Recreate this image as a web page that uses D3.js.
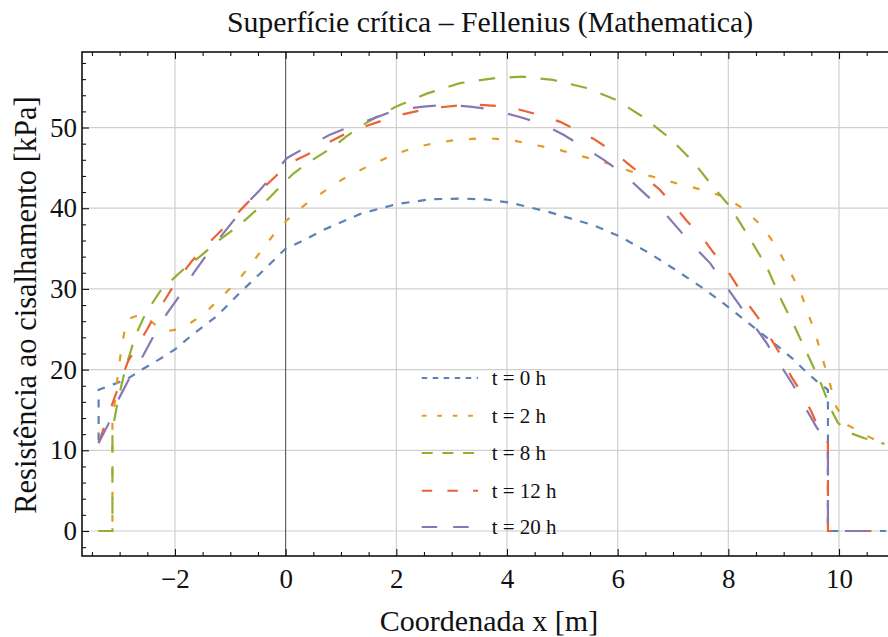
<!DOCTYPE html>
<html>
<head>
<meta charset="utf-8">
<script src="https://cdn.jsdelivr.net/npm/d3@7"></script>
<style>
  html, body { margin: 0; padding: 0; background: #fff; }
  svg { display: block; }
  text { font-family: "Liberation Serif", "Times New Roman", serif; fill: #111; }
</style>
</head>
<body>
<svg id="chart" width="888" height="637"></svg>
<script>
// Shear strength along the critical surface (Fellenius) for several elapsed times.
// Each series is a list of [x (m), strength (kPa)] points.
const t0 = [[-3.38, 11.2], [-3.38, 17.5], [-3.1, 18.2], [-2.87, 18.8], [-2.6, 20.0], [-2.3, 21.2],
  [-2.0, 22.5], [-1.67, 24.4], [-1.25, 26.6], [-0.83, 29.5], [-0.4, 32.3], [0.0, 35.0],
  [0.26, 35.8], [0.68, 37.3], [1.35, 39.3], [2.0, 40.5], [2.6, 41.1], [3.15, 41.2],
  [3.6, 41.1], [4.05, 40.7], [4.72, 39.6], [5.56, 37.9], [6.04, 36.5], [6.58, 34.4],
  [7.06, 32.3], [7.54, 30.1], [8.03, 27.6], [8.45, 25.3], [8.93, 22.7], [9.17, 21.3],
  [9.41, 19.7], [9.59, 18.6], [9.8, 17.5], [9.8, 0], [10.85, 0]];

const t2 = [[-3.38, 0], [-3.13, 0], [-3.13, 13.5], [-3.02, 20.0], [-2.96, 23.0], [-2.87, 26.2],
  [-2.6, 26.9], [-2.2, 24.7], [-1.95, 25.0], [-1.82, 25.3], [-1.46, 27.0], [-1.13, 29.2],
  [-0.83, 31.3], [-0.52, 34.0], [-0.22, 36.7], [0.02, 38.5], [0.38, 40.6], [0.74, 42.3],
  [1.1, 43.9], [1.46, 45.1], [1.94, 46.6], [2.37, 47.6], [2.79, 48.2], [3.15, 48.5],
  [3.63, 48.7], [4.11, 48.4], [4.53, 47.8], [4.96, 47.2], [5.38, 46.4], [5.8, 45.6],
  [6.22, 44.6], [6.64, 43.9], [7.06, 43.1], [7.52, 42.3], [7.94, 41.4], [8.3, 39.8],
  [8.63, 37.6], [8.87, 35.2], [9.08, 32.6], [9.3, 29.7], [9.44, 27.0], [9.58, 24.3],
  [9.71, 21.2], [9.83, 18.4], [9.95, 15.4], [10.16, 13.1], [10.56, 11.6], [10.82, 10.7]];

const t8 = [[-3.38, 0], [-3.13, 0], [-3.13, 12.5], [-3.03, 16.2], [-2.9, 20.0], [-2.72, 24.1],
  [-2.57, 26.4], [-2.45, 27.8], [-2.27, 29.7], [-2.09, 30.9], [-1.82, 32.6], [-1.55, 34.0],
  [-1.31, 35.4], [-1.19, 36.1], [-0.8, 38.1], [-0.46, 40.2], [-0.28, 41.4], [-0.04, 43.1],
  [0.14, 44.3], [0.44, 45.8], [0.86, 47.6], [1.1, 48.9], [1.34, 50.1], [1.64, 51.3],
  [2.0, 52.6], [2.55, 54.2], [3.15, 55.5], [3.75, 56.1], [4.29, 56.3], [4.83, 55.9],
  [5.44, 54.9], [5.98, 53.4], [6.46, 51.3], [6.94, 48.7], [7.36, 45.8], [7.72, 42.7],
  [8.03, 40.2], [8.33, 36.9], [8.69, 32.8], [8.96, 28.6], [9.2, 25.3], [9.41, 22.2],
  [9.65, 18.7], [9.86, 15.0], [9.98, 13.4], [10.22, 12.1], [10.46, 11.5], [10.82, 10.8]];

const t12 = [[-3.38, 10.9], [-3.15, 15.4], [-3.05, 17.3], [-2.85, 21.0], [-2.51, 24.9],
  [-2.39, 26.4], [-2.15, 29.0], [-2.0, 30.7], [-1.7, 33.4], [-1.55, 34.6], [-1.2, 37.0],
  [-0.7, 40.6], [-0.19, 43.9], [0.02, 45.4], [0.44, 46.8], [0.68, 47.8], [1.1, 49.3],
  [1.34, 49.9], [1.76, 50.9], [2.03, 51.5], [2.49, 52.2], [2.79, 52.5], [3.21, 52.8],
  [3.51, 52.8], [3.96, 52.6], [4.23, 52.2], [4.68, 51.4], [4.96, 50.7], [5.35, 49.4],
  [5.59, 48.5], [5.98, 46.7], [6.19, 45.5], [6.55, 43.5], [6.76, 42.3], [7.06, 40.0],
  [7.24, 38.5], [7.54, 36.3], [7.72, 34.6], [8.0, 32.1], [8.15, 30.5], [8.39, 27.8],
  [8.54, 26.4], [8.78, 23.7], [8.93, 22.0], [9.14, 19.1], [9.29, 17.5], [9.5, 14.8],
  [9.62, 12.9], [9.8, 10.9], [9.8, 0], [10.85, 0]];

const t20 = [[-3.38, 10.9], [-3.2, 13.3], [-3.03, 16.2], [-2.84, 18.7], [-2.57, 21.8],
  [-2.39, 24.1], [-2.15, 26.9], [-1.91, 29.2], [-1.67, 31.9], [-1.43, 34.2], [-1.16, 36.6],
  [-0.89, 38.9], [-0.7, 40.6], [-0.46, 42.3], [-0.28, 43.7], [0.02, 46.2], [0.38, 47.6],
  [0.8, 49.1], [1.16, 50.1], [1.58, 51.1], [2.0, 52.2], [2.49, 52.6], [2.88, 52.8],
  [3.33, 52.6], [3.75, 52.2], [4.23, 51.3], [4.63, 50.5], [5.02, 49.1], [5.38, 47.6],
  [5.77, 45.9], [6.13, 44.1], [6.46, 42.0], [6.76, 40.1], [7.09, 37.5], [7.33, 35.6],
  [7.67, 33.2], [7.9, 30.9], [8.18, 28.2], [8.42, 25.9], [8.69, 23.3], [8.9, 21.0],
  [9.17, 18.1], [9.35, 15.8], [9.59, 12.9], [9.8, 10.9], [9.8, 0], [10.85, 0]];

const seriesLabels = ["t = 0 h", "t = 2 h", "t = 8 h", "t = 12 h", "t = 20 h"];
const seriesData = [t0, t2, t8, t12, t20];
const seriesColors = ["#5E81B5", "#E19C24", "#8FB032", "#EB6235", "#8778B3"];
// dash patterns for the curves and (shorter) for the legend keys
const plotDashes = ["8,8.5", "7,16", "16.5,14.5", "16,23", "23,25"];
const keyDashes = ["5.5,5.5", "4.7,10.8", "11,9.7", "10.5,15.2", "15.5,16"];

const xMajor = [-2, 0, 2, 4, 6, 8, 10];
const yMajor = [0, 10, 20, 30, 40, 50];

const titleText = "Superfície crítica \u2013 Fellenius (Mathematica)";
const xTitle = "Coordenada x [m]";
const yTitle = "Resistência ao cisalhamento [kPa]";

// ---- layout ----
const svg = d3.select("#chart");
const plot = { left: 82, right: 896, top: 52, bottom: 556 };

const x = d3.scaleLinear().domain([-3.68, 11.03]).range([plot.left, plot.right]);
const y = d3.scaleLinear().domain([-3.1, 59.36]).range([plot.bottom, plot.top]);

const xMinor = d3.range(-3.5, 11.01, 0.5).filter(v => !xMajor.includes(v));
const yMinor = d3.range(-2, 59, 2).filter(v => !yMajor.includes(v));

svg.append("defs").append("clipPath").attr("id", "plotClip")
  .append("rect")
  .attr("x", plot.left).attr("y", plot.top)
  .attr("width", plot.right - plot.left).attr("height", plot.bottom - plot.top);

// grid
const grid = svg.append("g").attr("class", "grid");
grid.selectAll("line.gx").data(xMajor.filter(v => v !== 0)).join("line")
  .attr("x1", d => x(d)).attr("x2", d => x(d))
  .attr("y1", plot.top).attr("y2", plot.bottom)
  .attr("stroke", "#cfcfcf").attr("stroke-width", 1.2);
grid.selectAll("line.gy").data(yMajor).join("line")
  .attr("x1", plot.left).attr("x2", plot.right)
  .attr("y1", d => y(d)).attr("y2", d => y(d))
  .attr("stroke", "#cfcfcf").attr("stroke-width", 1.2);

// vertical axis line through x = 0
svg.append("line")
  .attr("x1", x(0)).attr("x2", x(0))
  .attr("y1", plot.top).attr("y2", plot.bottom)
  .attr("stroke", "#555").attr("stroke-width", 1.1);

// curves
const line = d3.line().x(d => x(d[0])).y(d => y(d[1]));
const curves = svg.append("g").attr("clip-path", "url(#plotClip)");
seriesData.forEach((data, i) => {
  curves.append("path")
    .datum(data)
    .attr("d", line)
    .attr("fill", "none")
    .attr("stroke", seriesColors[i])
    .attr("stroke-width", 2.2)
    .attr("stroke-dasharray", plotDashes[i]);
});

// frame ticks (pointing inward) with labels on bottom and left
function styleAxis(g) {
  g.select(".domain").remove();
  g.selectAll(".tick line").attr("stroke", "#111").attr("stroke-width", 1.1);
  g.selectAll("text").style("font-family", "'Liberation Serif', 'Times New Roman', serif");
}

svg.append("g").attr("transform", `translate(0,${plot.bottom})`)
  .call(d3.axisBottom(x).tickValues(xMajor).tickSize(-7).tickPadding(13).tickFormat(d3.format("d")))
  .call(styleAxis)
  .call(g => g.selectAll("text").attr("font-size", 27).attr("fill", "#111"));
svg.append("g").attr("transform", `translate(0,${plot.bottom})`)
  .call(d3.axisBottom(x).tickValues(xMinor).tickSize(-4).tickFormat(""))
  .call(styleAxis);

svg.append("g").attr("transform", `translate(0,${plot.top})`)
  .call(d3.axisTop(x).tickValues(xMajor).tickSize(-7).tickFormat(""))
  .call(styleAxis);
svg.append("g").attr("transform", `translate(0,${plot.top})`)
  .call(d3.axisTop(x).tickValues(xMinor).tickSize(-4).tickFormat(""))
  .call(styleAxis);

svg.append("g").attr("transform", `translate(${plot.left},0)`)
  .call(d3.axisLeft(y).tickValues(yMajor).tickSize(-7).tickPadding(5).tickFormat(d3.format("d")))
  .call(styleAxis)
  .call(g => g.selectAll("text").attr("font-size", 27).attr("fill", "#111"));
svg.append("g").attr("transform", `translate(${plot.left},0)`)
  .call(d3.axisLeft(y).tickValues(yMinor).tickSize(-4).tickFormat(""))
  .call(styleAxis);

// frame
svg.append("rect")
  .attr("x", plot.left).attr("y", plot.top)
  .attr("width", plot.right - plot.left).attr("height", plot.bottom - plot.top)
  .attr("fill", "none").attr("stroke", "#111").attr("stroke-width", 1.6);

// legend
const legendRows = [378, 415.7, 453, 490.7, 527];
const legend = svg.append("g");
seriesLabels.forEach((label, i) => {
  legend.append("line")
    .attr("x1", 421.7).attr("x2", 478)
    .attr("y1", legendRows[i]).attr("y2", legendRows[i])
    .attr("stroke", seriesColors[i]).attr("stroke-width", 2)
    .attr("stroke-dasharray", keyDashes[i]);
  legend.append("text")
    .attr("x", 491.7).attr("y", legendRows[i]).attr("dy", "0.35em")
    .attr("font-size", 21)
    .text(label);
});

// titles
svg.append("text")
  .attr("x", 490).attr("y", 32)
  .attr("text-anchor", "middle").attr("font-size", 29.8)
  .text(titleText);

svg.append("text")
  .attr("x", 489).attr("y", 631)
  .attr("text-anchor", "middle").attr("font-size", 30)
  .text(xTitle);

svg.append("text")
  .attr("transform", "translate(36,305) rotate(-90)")
  .attr("text-anchor", "middle").attr("font-size", 30.5)
  .text(yTitle);
</script>
</body>
</html>
